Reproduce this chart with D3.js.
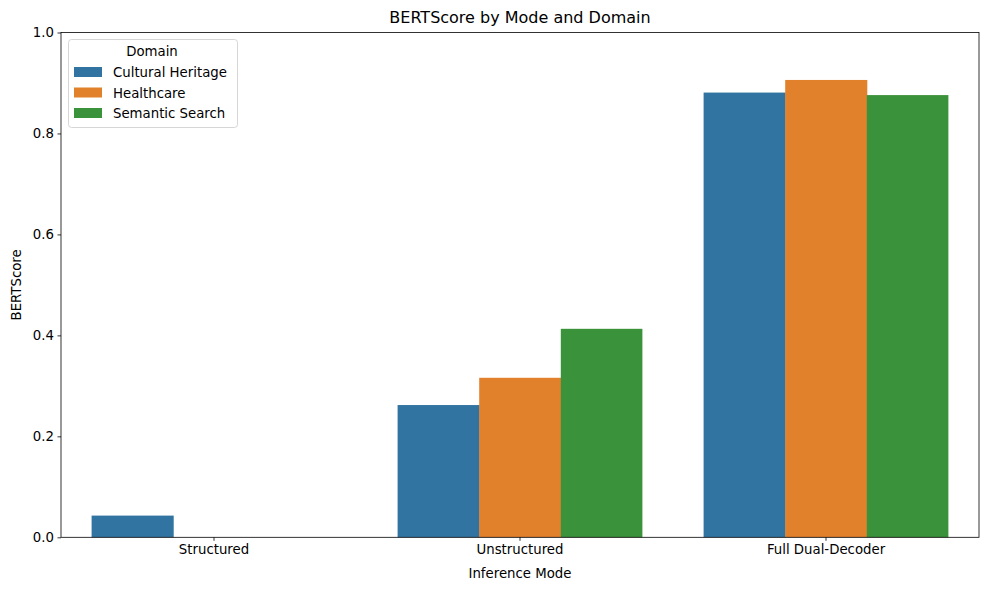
<!DOCTYPE html>
<html><head><meta charset="utf-8">
<script src="https://cdn.jsdelivr.net/npm/d3@7"></script>
<style>body{margin:0;background:#fff}text{font-family:"DejaVu Sans",sans-serif;fill:#000}</style>
</head><body>
<svg id="c" width="989" height="590"></svg>
<script>
const modes = ["Structured", "Unstructured", "Full Dual-Decoder"];
const domains = ["Cultural Heritage", "Healthcare", "Semantic Search"];
const colors = ["#3274a1", "#e1812c", "#3a923a"];
const culturalHeritage = [0.043, 0.262, 0.881];
const healthcare = [0.0, 0.316, 0.906];
const semanticSearch = [0.0, 0.413, 0.876];
const yTicks = [0.0, 0.2, 0.4, 0.6, 0.8, 1.0];
const seriesVals = [culturalHeritage, healthcare, semanticSearch];

const svg = d3.select("#c");
const L = 61, R = 979, T = 32.5, B = 537.3;
const fs = 13.3;

const x = d3.scaleBand().domain(modes).range([L, R]).paddingInner(0).paddingOuter(0);
const y = d3.scaleLinear().domain([0, 1]).range([B, T]);

// bars
domains.forEach((d, di) => {
  svg.append("g").selectAll("rect").data(modes).join("rect")
    .attr("x", m => x(m) + x.bandwidth()*0.1 + di * x.bandwidth()*0.8/3)
    .attr("width", x.bandwidth()*0.8/3 + (di < 2 ? 0.5 : 0))
    .attr("y", (m, i) => y(seriesVals[di][i]))
    .attr("height", (m, i) => B - y(seriesVals[di][i]))
    .attr("fill", colors[di]);
});

// axes
const xa = svg.append("g").attr("transform", `translate(0,${B})`)
  .call(d3.axisBottom(x).tickSize(3.5).tickPadding(3.5).tickSizeOuter(0));
const ya = svg.append("g").attr("transform", `translate(${L},0)`)
  .call(d3.axisLeft(y).tickValues(yTicks).tickFormat(d3.format(".1f")).tickSize(3.5).tickPadding(3.5).tickSizeOuter(0));
[xa, ya].forEach(a => {
  a.selectAll("text").style("font-size", fs + "px").style("font-family", "DejaVu Sans");
  a.selectAll("line").attr("stroke", "#000").attr("stroke-width", 0.8);
  a.select(".domain").remove();
});
// frame
svg.append("rect").attr("x", L).attr("y", T).attr("width", R - L).attr("height", B - T)
  .attr("fill", "none").attr("stroke", "#000").attr("stroke-width", 0.8);

// titles
svg.append("text").attr("x", (L + R) / 2).attr("y", 23).attr("text-anchor", "middle")
  .style("font-size", "16px").text("BERTScore by Mode and Domain");
svg.append("text").attr("x", (L + R) / 2).attr("y", 578).attr("text-anchor", "middle")
  .style("font-size", fs + "px").text("Inference Mode");
svg.append("text").attr("transform", `translate(21,${(T + B) / 2}) rotate(-90)`).attr("text-anchor", "middle")
  .style("font-size", fs + "px").text("BERTScore");

// legend
const lg = svg.append("g");
lg.append("rect").attr("x", 68.5).attr("y", 39.5).attr("width", 169).attr("height", 88).attr("rx", 3)
  .attr("fill", "#fff").attr("fill-opacity", 0.8).attr("stroke", "#ccc").attr("stroke-width", 0.8);
lg.append("text").attr("x", 152).attr("y", 56).attr("text-anchor", "middle").style("font-size", fs + "px").text("Domain");
domains.forEach((d, i) => {
  const yy = 72 + i * 20.5;
  lg.append("rect").attr("x", 74).attr("y", yy - 5).attr("width", 28).attr("height", 10).attr("fill", colors[i]);
  lg.append("text").attr("x", 113).attr("y", yy + 5).style("font-size", fs + "px").text(d);
});
</script>
</body></html>
